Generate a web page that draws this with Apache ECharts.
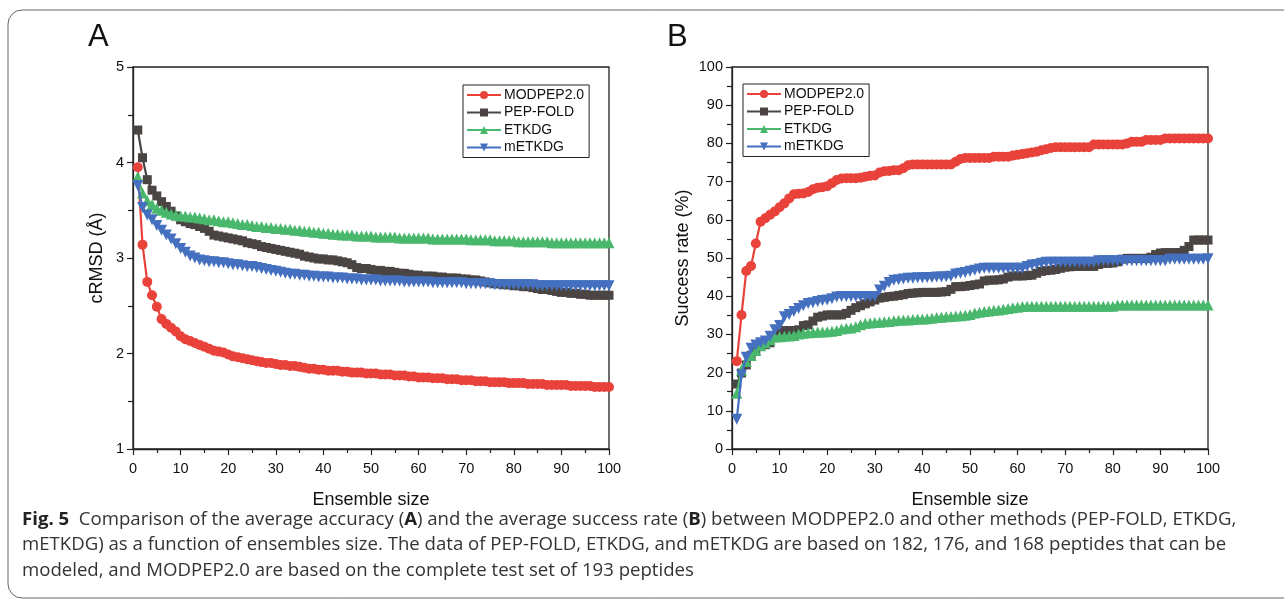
<!DOCTYPE html>
<html>
<head>
<meta charset="utf-8">
<script src="https://cdn.jsdelivr.net/npm/echarts@6/dist/echarts.min.js"></script>
<style>
html,body{margin:0;padding:0;background:#fff;}
#c{width:1284px;height:599px;}
</style>
</head>
<body>
<div id="c"></div>
<script>
// ---- data ----
const seriesNames = ['MODPEP2.0', 'PEP-FOLD', 'ETKDG', 'mETKDG'];
const xTickLabels = [0,10,20,30,40,50,60,70,80,90,100];

// Panel A: cRMSD (Å) vs ensemble size 1..100
const rmsdMODPEP = [3.95,3.14,2.75,2.61,2.49,2.36,2.31,2.27,2.23,2.18,
 2.15,2.13,2.11,2.09,2.07,2.05,2.03,2.02,2.01,1.99,
 1.97,1.96,1.95,1.94,1.93,1.92,1.91,1.90,1.90,1.89,
 1.88,1.88,1.87,1.87,1.86,1.85,1.84,1.84,1.83,1.83,
 1.82,1.82,1.82,1.81,1.81,1.80,1.80,1.80,1.79,1.79,
 1.79,1.78,1.78,1.78,1.77,1.77,1.77,1.76,1.76,1.75,
 1.75,1.75,1.74,1.74,1.74,1.73,1.73,1.73,1.72,1.72,
 1.72,1.71,1.71,1.71,1.70,1.70,1.70,1.70,1.69,1.69,
 1.69,1.69,1.68,1.68,1.68,1.68,1.67,1.67,1.67,1.67,
 1.67,1.66,1.66,1.66,1.66,1.66,1.65,1.65,1.65,1.65];
const rmsdPEPFOLD = [4.34,4.05,3.82,3.71,3.65,3.59,3.54,3.49,3.44,3.40,
 3.38,3.36,3.35,3.33,3.31,3.28,3.24,3.23,3.22,3.21,
 3.20,3.19,3.18,3.16,3.15,3.14,3.12,3.11,3.10,3.09,
 3.08,3.07,3.06,3.05,3.04,3.02,3.01,3.00,2.99,2.99,
 2.98,2.98,2.97,2.96,2.95,2.93,2.90,2.89,2.89,2.88,
 2.87,2.87,2.86,2.86,2.85,2.84,2.84,2.83,2.82,2.82,
 2.81,2.81,2.81,2.80,2.80,2.79,2.79,2.79,2.78,2.78,
 2.77,2.77,2.76,2.75,2.74,2.73,2.73,2.72,2.72,2.71,
 2.71,2.70,2.70,2.69,2.68,2.67,2.67,2.66,2.65,2.64,
 2.64,2.63,2.63,2.62,2.62,2.61,2.61,2.61,2.61,2.61];
const rmsdETKDG = [3.85,3.68,3.60,3.56,3.52,3.50,3.48,3.46,3.45,3.44,
 3.44,3.43,3.43,3.42,3.41,3.40,3.40,3.39,3.38,3.38,
 3.37,3.36,3.35,3.35,3.34,3.33,3.33,3.32,3.32,3.31,
 3.31,3.30,3.30,3.29,3.29,3.28,3.28,3.27,3.27,3.26,
 3.26,3.25,3.25,3.24,3.24,3.24,3.23,3.23,3.23,3.23,
 3.22,3.22,3.22,3.22,3.22,3.21,3.21,3.21,3.21,3.21,
 3.21,3.21,3.20,3.20,3.20,3.20,3.20,3.20,3.20,3.20,
 3.19,3.19,3.19,3.19,3.19,3.18,3.18,3.18,3.18,3.18,
 3.17,3.17,3.17,3.17,3.17,3.17,3.17,3.16,3.16,3.16,
 3.16,3.16,3.16,3.16,3.16,3.16,3.16,3.16,3.16,3.16];
const rmsdMETKDG = [3.76,3.53,3.45,3.40,3.34,3.29,3.24,3.20,3.15,3.10,
 3.06,3.02,3.00,2.98,2.97,2.96,2.96,2.95,2.95,2.94,
 2.93,2.93,2.92,2.91,2.91,2.90,2.89,2.88,2.87,2.86,
 2.85,2.84,2.83,2.83,2.82,2.82,2.81,2.81,2.80,2.80,
 2.80,2.79,2.79,2.79,2.78,2.78,2.78,2.77,2.77,2.77,
 2.77,2.76,2.76,2.76,2.76,2.76,2.75,2.75,2.75,2.75,
 2.75,2.75,2.74,2.74,2.74,2.74,2.74,2.74,2.74,2.73,
 2.73,2.73,2.73,2.73,2.73,2.72,2.72,2.72,2.72,2.72,
 2.72,2.72,2.72,2.72,2.71,2.71,2.71,2.71,2.71,2.71,
 2.71,2.71,2.71,2.71,2.71,2.71,2.71,2.71,2.71,2.71];

// Panel B: success rate (%) vs ensemble size 1..100
const succMODPEP = [23.0,35.1,46.6,47.9,53.8,59.5,60.4,61.3,62.2,63.3,
 64.3,65.6,66.7,66.8,66.9,67.3,68.0,68.4,68.5,68.8,
 69.6,70.4,70.8,70.9,70.9,70.9,71.0,71.3,71.5,71.6,
 72.4,72.7,72.8,73.0,73.0,73.5,74.3,74.5,74.5,74.5,
 74.5,74.5,74.5,74.5,74.5,74.5,75.2,75.9,76.2,76.2,
 76.2,76.2,76.2,76.2,76.5,76.5,76.5,76.5,76.8,77.0,
 77.2,77.4,77.6,77.8,78.2,78.5,78.8,79.0,79.0,79.0,
 79.0,79.0,79.0,79.0,79.0,79.7,79.7,79.7,79.7,79.7,
 79.7,79.7,80.0,80.4,80.4,80.4,80.9,80.9,80.9,80.9,
 81.3,81.3,81.3,81.3,81.3,81.3,81.3,81.3,81.3,81.3];
const succPEPFOLD = [17.0,19.9,22.0,24.5,26.0,27.0,27.3,27.8,29.5,30.8,
 31.0,31.0,31.0,31.2,32.3,32.5,33.5,34.5,34.8,35.1,
 35.1,35.1,35.1,35.5,36.3,37.0,37.5,38.0,38.5,39.0,
 39.5,39.7,39.9,40.0,40.2,40.4,40.7,40.8,40.9,41.0,
 41.0,41.0,41.0,41.1,41.2,41.8,42.5,42.5,42.6,42.8,
 43.0,43.2,44.0,44.2,44.2,44.3,44.5,45.0,45.3,45.3,
 45.3,45.4,45.5,46.0,46.5,46.7,46.8,47.0,47.3,47.6,
 47.7,47.8,47.8,47.8,47.8,47.8,48.3,48.6,48.6,48.7,
 49.0,49.7,49.9,49.9,49.9,49.9,49.9,50.2,50.9,51.3,
 51.4,51.4,51.4,51.4,52.0,53.0,54.7,54.7,54.7,54.7];
const succETKDG = [14.6,20.7,22.9,24.5,25.8,27.0,27.8,28.6,29.3,29.4,
 29.5,29.6,29.7,30.1,30.3,30.4,30.5,30.6,30.6,30.7,
 30.8,31.0,31.4,31.6,31.7,32.0,32.5,32.9,33.0,33.1,
 33.2,33.3,33.4,33.6,33.7,33.8,33.8,33.9,34.0,34.0,
 34.1,34.2,34.4,34.5,34.6,34.7,34.8,34.9,35.0,35.2,
 35.6,35.8,36.0,36.1,36.3,36.4,36.6,36.8,37.0,37.1,
 37.3,37.4,37.4,37.4,37.4,37.4,37.4,37.4,37.4,37.4,
 37.4,37.4,37.4,37.4,37.4,37.4,37.4,37.4,37.4,37.4,
 37.7,37.7,37.7,37.7,37.7,37.7,37.7,37.7,37.7,37.7,
 37.7,37.7,37.7,37.7,37.7,37.7,37.7,37.7,37.7,37.7];
const succMETKDG = [7.8,19.4,24.0,26.4,27.2,27.8,28.3,29.5,31.2,32.3,
 34.6,35.2,36.0,36.8,37.5,38.1,38.3,38.6,38.9,39.0,
 39.3,39.8,39.9,39.9,39.9,39.9,39.9,39.9,39.9,39.9,
 41.6,42.6,43.6,44.2,44.3,44.5,44.7,44.7,44.8,44.8,
 44.9,44.9,45.0,45.0,45.1,45.2,45.8,46.0,46.2,46.5,
 46.8,47.1,47.3,47.3,47.3,47.3,47.3,47.3,47.3,47.3,
 47.3,47.8,48.2,48.3,48.6,48.9,48.9,48.9,48.9,48.9,
 48.9,48.9,48.9,48.9,48.9,48.9,49.3,49.3,49.3,49.3,
 49.3,49.3,49.3,49.3,49.3,49.3,49.3,49.3,49.3,49.3,
 49.3,49.7,49.7,49.7,49.7,49.7,49.7,49.7,49.7,49.8];

const yTickLabelsA = [1,2,3,4,5];
const yTickLabelsB = [0,10,20,30,40,50,60,70,80,90,100];

// ---- styling ----
const colors = ['#e8423b', '#4a4543', '#49b86c', '#4570c0'];
const symbols = ['circle', 'rect', 'triangle', 'path://M0,0 L10,0 L5,9 Z'];
const symbolSizes = [10, 9, 11, 11];
const FONT = 'Liberation Sans, Arial, sans-serif';

const pairs = arr => arr.map((v, i) => [i + 1, v]);

function xAxis(gi) {
  return {
    type: 'value', gridIndex: gi, min: 0, max: 100, interval: 10,
    name: 'Ensemble size', nameLocation: 'middle', nameGap: 42,
    nameTextStyle: { fontFamily: FONT, fontSize: 18, color: '#111' },
    axisLine: { show: true, lineStyle: { color: '#222', width: 1.3 } },
    axisTick: { show: true, length: 6, lineStyle: { color: '#222', width: 1.2 } },
    minorTick: { show: true, splitNumber: 2, length: 4, lineStyle: { color: '#222', width: 1.2 } },
    axisLabel: { fontFamily: FONT, fontSize: 14.5, color: '#111', margin: 12,
      formatter: v => xTickLabels.includes(v) ? String(v) : '' },
    splitLine: { show: false }
  };
}

function yAxis(gi, min, max, interval, name, gap, labels) {
  return {
    type: 'value', gridIndex: gi, min, max, interval,
    name, nameLocation: 'middle', nameGap: gap, nameRotate: 90,
    nameTextStyle: { fontFamily: FONT, fontSize: 18, color: '#111' },
    axisLine: { show: true, lineStyle: { color: '#222', width: 1.3 } },
    axisTick: { show: true, length: 6, lineStyle: { color: '#222', width: 1.2 } },
    minorTick: { show: true, splitNumber: 2, length: 5, lineStyle: { color: '#222', width: 1.2 } },
    axisLabel: { fontFamily: FONT, fontSize: 14.5, color: '#111', margin: 9,
      formatter: v => labels.includes(v) ? String(v) : '' },
    splitLine: { show: false }
  };
}

const dataA = [rmsdMODPEP, rmsdPEPFOLD, rmsdETKDG, rmsdMETKDG];
const dataB = [succMODPEP, succPEPFOLD, succETKDG, succMETKDG];

const series = [];
[dataA, dataB].forEach((set, gi) => {
  set.forEach((arr, k) => {
    series.push({
      type: 'line', name: seriesNames[k], xAxisIndex: gi, yAxisIndex: gi,
      data: pairs(arr), symbol: symbols[k], symbolSize: symbolSizes[k],
      showSymbol: true, showAllSymbol: true,
      lineStyle: { color: colors[k], width: 2.2 },
      itemStyle: { color: colors[k] },
      animation: false, z: 2 + k
    });
  });
});

function legend(left, top) {
  return {
    data: seriesNames, orient: 'vertical', left, top,
    itemWidth: 34, itemHeight: 10, itemGap: 3.5,
    padding: [3, 5, 3, 3], borderColor: '#222', borderWidth: 1,
    textStyle: { fontFamily: FONT, fontSize: 14, lineHeight: 14, color: '#111', padding: [0, 0, 0, -2] },
    selectedMode: false
  };
}

const caption1 = '{b|Fig. 5}  Comparison of the average accuracy ({b|A}) and the average success rate ({b|B}) between MODPEP2.0 and other methods (PEP-FOLD, ETKDG,';
const caption2 = 'mETKDG) as a function of ensembles size. The data of PEP-FOLD, ETKDG, and mETKDG are based on 182, 176, and 168 peptides that can be';
const caption3 = 'modeled, and MODPEP2.0 are based on the complete test set of 193 peptides';

const CAPFS = 18.6;
const capStyle = { fontFamily: 'Open Sans, sans-serif', fontSize: CAPFS, fill: '#333',
  rich: { b: { fontFamily: 'Open Sans, sans-serif', fontSize: CAPFS, fontWeight: 'bold', fill: '#222' } } };

const chart = echarts.init(document.getElementById('c'), null, { renderer: 'canvas' });
chart.setOption({
  animation: false,
  backgroundColor: '#fff',
  grid: [
    { left: 133, right: 675, top: 67, bottom: 150, show: true, borderColor: '#222', borderWidth: 1.3, backgroundColor: 'transparent' },
    { left: 732, right: 76, top: 67, bottom: 150, show: true, borderColor: '#222', borderWidth: 1.3, backgroundColor: 'transparent' }
  ],
  xAxis: [xAxis(0), xAxis(1)],
  yAxis: [
    yAxis(0, 1, 5, 1, 'cRMSD (Å)', 27, yTickLabelsA),
    yAxis(1, 0, 100, 10, 'Success rate (%)', 40, yTickLabelsB)
  ],
  legend: [legend(463, 85), legend(743, 84)],
  series,
  graphic: [
    { type: 'rect', shape: { x: 8, y: 10, width: 1300, height: 588, r: 14 }, style: { fill: 'none', stroke: '#666', lineWidth: 1 }, silent: true },
    { type: 'text', left: 88, top: 22, style: { text: 'A', fontFamily: FONT, fontSize: 31, fill: '#111' } },
    { type: 'text', left: 667, top: 22, style: { text: 'B', fontFamily: FONT, fontSize: 31, fill: '#111' } },
    { type: 'text', left: 22, top: 510, style: Object.assign({ text: caption1 }, capStyle) },
    { type: 'text', left: 22, top: 535, style: Object.assign({ text: caption2 }, capStyle) },
    { type: 'text', left: 22, top: 561, style: Object.assign({ text: caption3 }, capStyle) }
  ]
});
</script>
</body>
</html>
